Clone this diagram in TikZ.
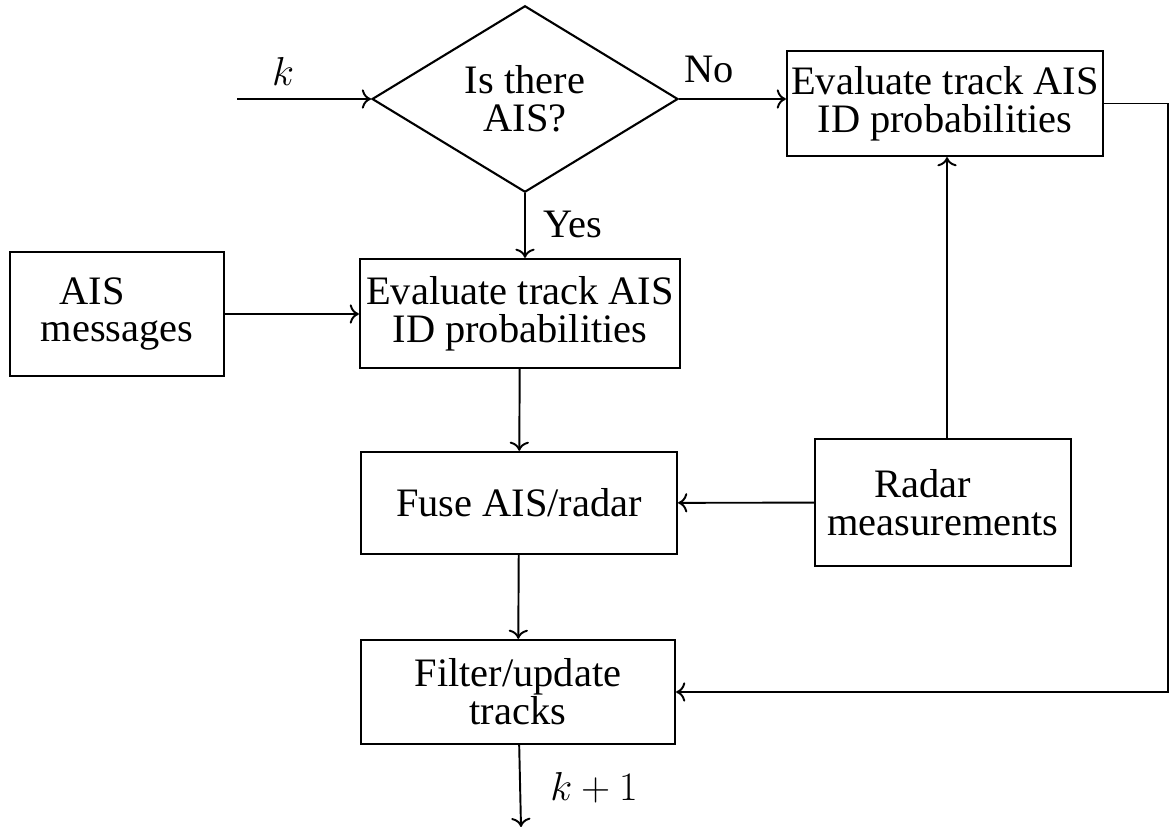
\RequirePackage{fix-cm}
\documentclass[tikz,border=0pt]{standalone}
\usepackage{amsmath}
\usepackage{fontspec}
\setmainfont{Liberation Serif}
\usepackage{tikz}
\usetikzlibrary{shapes.geometric,arrows.meta}

\begin{document}
\begin{tikzpicture}[x=0.02cm,y=-0.02cm,>={To[scale=1.3]},
		every node/.style={font=\fontsize{23}{21.5}\selectfont},
		block/.style={draw,line width=1.3pt,align=center,inner sep=0pt},
		decision/.style={draw,diamond,line width=1.2pt,align=center,inner sep=0pt,
			minimum width=6.12cm,minimum height=3.48cm},
		every path/.style={line width=1.1pt}]
		\useasboundingbox (0,0) rectangle (1172,827);

		\coordinate (in)  at (237,99);
		\coordinate (out) at (521,827);

		\node[decision] (ais) at (525,99) {Is there\\AIS?};
		\node[block,minimum width=6.32cm,minimum height=2.1cm]  (evalno)  at (945,103.5) {Evaluate track AIS\\ID probabilities};
		\node[block,minimum width=6.4cm,minimum height=2.18cm]  (evalyes) at (520,313.5) {Evaluate track AIS\\ID probabilities};
		\node[block,minimum width=4.28cm,minimum height=2.48cm] (msgs)    at (117,314)   {AIS\hspace*{1cm}\\messages};
		\node[block,minimum width=6.32cm,minimum height=2.04cm] (fuse)    at (519,503)   {Fuse AIS/radar};
		\node[block,minimum width=5.12cm,minimum height=2.54cm] (radar)   at (943,502.5) {Radar\hspace*{0.8cm}\\measurements};
		\node[block,minimum width=6.28cm,minimum height=2.08cm] (filter)  at (518,692)   {Filter/update\\tracks};

		\node (k)   at (283,71)  {$k$};
		\node (no)  at (709,69)  {No};
		\node (yes) at (573,224) {Yes};
		\node (k1)  at (594,788) {$k+1$};

		\draw[->] (in) to (ais.west);
		\draw[->] (ais.east) to (ais.east -| evalno.west);
		\draw[->] (ais.south) to (ais.south |- evalyes.north);
		\draw[->] (msgs.east) to (msgs.east -| evalyes.west);
		\draw[->] (evalyes) to (fuse);
		\draw[->] (radar) to (fuse);
		\draw[->] ([xshift=0.08cm]radar.north) to ([xshift=0.08cm]radar.north |- evalno.south);
		\draw[->] (fuse) to (filter);
		\draw[->] (evalno.east) -- ++(64,0) |- (filter.east);
		\draw[->] (filter) to (out);
	\end{tikzpicture}
\end{document}
